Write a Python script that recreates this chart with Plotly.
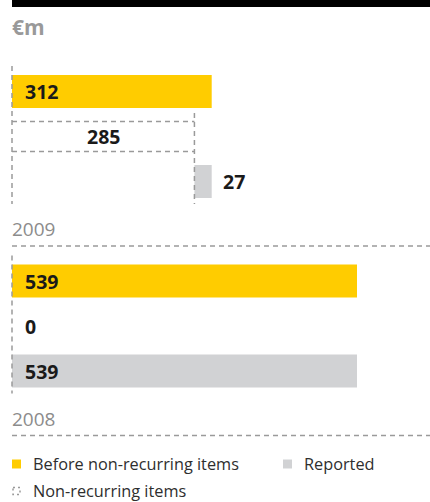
import plotly.graph_objects as go

# ---- data ----
years = ["2009", "2008"]
before_nonrec = [312, 539]      # Before non-recurring items
non_recurring = [285, 0]        # Non-recurring items
reported = [27, 539]            # Reported
unit_label = "€m"
legend_labels = ["Before non-recurring items", "Reported", "Non-recurring items"]

YELLOW = "#FFCC00"
GREY_BAR = "#D1D2D4"
DASH_COL = "#9a9a9a"
LABEL_COL = "#1a1a1a"
MUTED = "#8c8c8c"
DASH = "5px,4px"

W, H = 430, 502
X0_PX, X539_PX = 12, 357
scale = (X539_PX - X0_PX) / 539.0
x_range = [-X0_PX / scale, (W - X0_PX) / scale]

# layout of rows (pixel-like y units, reversed axis)
group_first_center = [91.5, 281.0]
pitch = 45.0
bar_h = 33.0
box_h = 30.0

fig = go.Figure()
shapes = []
annotations = []

for g, yr in enumerate(years):
    c0 = group_first_center[g]
    rows = [c0 + i * pitch for i in range(3)]
    b, n, r = before_nonrec[g], non_recurring[g], reported[g]

    # before non-recurring bar
    fig.add_trace(go.Bar(x=[b], y=[rows[0]], base=[0], orientation="h", width=bar_h,
                         marker=dict(color=YELLOW, line=dict(width=0)),
                         showlegend=False, hoverinfo="skip"))
    # reported bar (waterfall from non-recurring)
    rep_base = n if n > 0 else 0
    fig.add_trace(go.Bar(x=[r], y=[rows[2]], base=[rep_base], orientation="h", width=bar_h,
                         marker=dict(color=GREY_BAR, line=dict(width=0)),
                         showlegend=False, hoverinfo="skip"))

    # left dashed baseline of the group
    shapes.append(dict(type="line", xref="x", yref="y", x0=0, x1=0,
                       y0=rows[0] - bar_h / 2 - 9, y1=rows[2] + bar_h / 2 + 6,
                       line=dict(color=DASH_COL, width=1.5, dash=DASH)))

    # labels
    annotations.append(dict(x=0, y=rows[0], xref="x", yref="y", text=f"<b>{b}</b>",
                            xanchor="left", xshift=11, showarrow=False,
                            font=dict(size=19.5, color=LABEL_COL)))
    if n > 0:
        top, bot = rows[1] - box_h / 2, rows[1] + box_h / 2
        for yy in (top, bot):
            shapes.append(dict(type="line", xref="x", yref="y", x0=0, x1=n, y0=yy, y1=yy,
                               line=dict(color=DASH_COL, width=1.5, dash=DASH)))
        shapes.append(dict(type="line", xref="x", yref="y", x0=n, x1=n,
                           y0=rows[0] + bar_h / 2 + 5, y1=rows[2] + bar_h / 2 + 6,
                           line=dict(color=DASH_COL, width=1.5, dash=DASH)))
        annotations.append(dict(x=n / 2, y=rows[1], xref="x", yref="y", text=f"<b>{n}</b>",
                                xanchor="center", showarrow=False,
                                font=dict(size=19.5, color=LABEL_COL)))
        annotations.append(dict(x=n + r, y=rows[2], xref="x", yref="y", text=f"<b>{r}</b>",
                                xanchor="left", xshift=9, showarrow=False,
                                font=dict(size=19.5, color=LABEL_COL)))
    else:
        annotations.append(dict(x=0, y=rows[1], xref="x", yref="y", text=f"<b>{n}</b>",
                                xanchor="left", xshift=11, showarrow=False,
                                font=dict(size=19.5, color=LABEL_COL)))
        annotations.append(dict(x=0, y=rows[2], xref="x", yref="y", text=f"<b>{r}</b>",
                                xanchor="left", xshift=11, showarrow=False,
                                font=dict(size=19.5, color=LABEL_COL)))

    # year label and separator
    yr_y = rows[2] + bar_h / 2 + 31
    annotations.append(dict(x=0, y=yr_y, xref="x", yref="y", text=yr, xanchor="left",
                            xshift=-2, showarrow=False, font=dict(size=19, color=MUTED)))
    sep_y = rows[2] + bar_h / 2 + 48
    shapes.append(dict(type="line", xref="x", yref="y", x0=0, x1=x_range[1],
                       y0=sep_y, y1=sep_y,
                       line=dict(color=DASH_COL, width=1.5, dash=DASH)))

# top black rule
shapes.append(dict(type="rect", xref="paper", yref="y", x0=X0_PX / W, x1=1, y0=0, y1=7,
                   fillcolor="#000000", line=dict(width=0)))
# unit label
annotations.append(dict(x=0, y=27, xref="x", yref="y", text=f"<b>{unit_label}</b>",
                        xanchor="left", xshift=-2, showarrow=False,
                        font=dict(size=21, color="#999999")))

# legend (manual)
def px(xp):
    return xp / W

leg = [
    (12, 464, legend_labels[0], "fill", YELLOW),
    (283, 464, legend_labels[1], "fill", GREY_BAR),
    (12, 491, legend_labels[2], "dash", DASH_COL),
]
for xp, yc, lab, kind, col in leg:
    if kind == "fill":
        shapes.append(dict(type="rect", xref="paper", yref="y", x0=px(xp), x1=px(xp + 9),
                           y0=yc - 4.5, y1=yc + 4.5, fillcolor=col, line=dict(width=0)))
    else:
        shapes.append(dict(type="rect", xref="paper", yref="y", x0=px(xp + 1), x1=px(xp + 8),
                           y0=yc - 3.5, y1=yc + 3.5, fillcolor="rgba(0,0,0,0)",
                           line=dict(color=col, width=1.5, dash="2px,3px")))
    annotations.append(dict(x=px(xp + 19), y=yc, xref="paper", yref="y", text=lab,
                            xanchor="left", showarrow=False,
                            font=dict(size=16.3, color="#2e2e2e")))

fig.update_layout(
    width=W, height=H,
    margin=dict(l=0, r=0, t=0, b=0),
    paper_bgcolor="white", plot_bgcolor="white",
    font=dict(family="Open Sans, sans-serif"),
    barmode="overlay",
    xaxis=dict(range=x_range, visible=False, fixedrange=True),
    yaxis=dict(range=[H, 0], visible=False, fixedrange=True),
    shapes=shapes, annotations=annotations,
    showlegend=False,
)

fig.write_html("out.html")
